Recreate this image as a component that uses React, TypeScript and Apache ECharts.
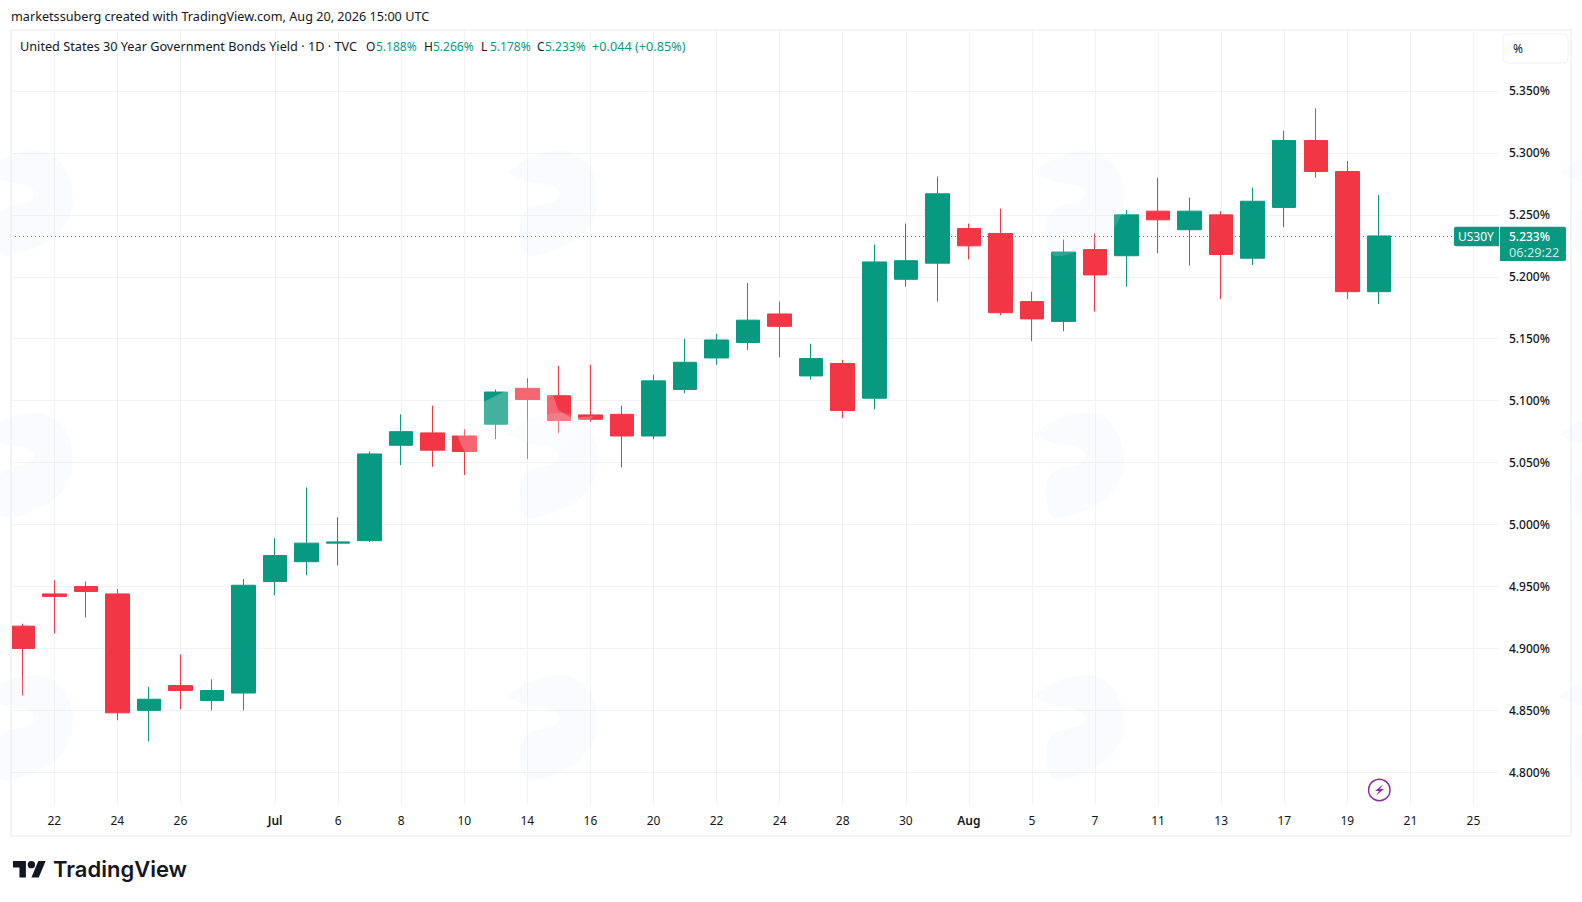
import React, { useEffect, useRef } from "react";
import * as echarts from "echarts";

const categories = [
  "19","22","23","24","25","26","29","30","Jul","2","6","7","8","9","10","13","14","15","16","17","20","21","22","23","24","27","28","29","30","31",
  "Aug","4","5","6","7","10","11","12","13","14","17","18","19","20","21","24","25","26",
];
const tickIndices = [1,3,5,8,10,12,14,16,18,20,22,24,26,28,30,32,34,36,38,40,42,44,46];
const opens = [4.918,4.944,4.95,4.944,4.85,4.87,4.858,4.864,4.954,4.97,4.985,4.987,5.064,5.074,5.0715,5.081,5.11,5.104,5.0885,5.089,5.0715,5.109,5.1345,5.147,5.17,5.12,5.13,5.102,5.198,5.211,5.239,5.235,5.18,5.164,5.222,5.217,5.253,5.238,5.25,5.215,5.256,5.31,5.285,5.188];
const closes = [4.9,4.942,4.946,4.848,4.859,4.866,4.866,4.951,4.975,4.985,4.986,5.057,5.075,5.06,5.059,5.107,5.101,5.084,5.085,5.0715,5.116,5.131,5.149,5.165,5.16,5.134,5.092,5.212,5.213,5.267,5.225,5.171,5.166,5.22,5.2015,5.25,5.246,5.253,5.218,5.261,5.31,5.285,5.188,5.233];
const lows = [4.862,4.912,4.925,4.842,4.825,4.851,4.85,4.85,4.943,4.959,4.967,4.986,5.048,5.0465,5.04,5.069,5.053,5.074,5.083,5.046,5.069,5.106,5.129,5.141,5.135,5.117,5.086,5.093,5.192,5.18,5.214,5.169,5.148,5.156,5.172,5.192,5.219,5.209,5.182,5.2095,5.24,5.28,5.182,5.178];
const highs = [4.92,4.955,4.954,4.948,4.869,4.895,4.875,4.956,4.989,5.03,5.006,5.059,5.089,5.096,5.077,5.109,5.118,5.128,5.129,5.096,5.121,5.15,5.154,5.195,5.18,5.146,5.133,5.226,5.243,5.281,5.243,5.255,5.188,5.23,5.235,5.254,5.28,5.264,5.253,5.272,5.318,5.336,5.2935,5.266];
const lastClose = 5.233;
const UP = "#089981";
const DOWN = "#F23645";
const INK = "#131722";
const GRID = "#f1f2f5";
const FONT = "'Noto Sans', sans-serif";

const candles = opens.map((o, i) => [o, closes[i], lows[i], highs[i]]);

const LOGO_D = "M14 22H7V11H0V4h14v18z M28 22h-8l7.5-18h8L28 22z M24 8a4 4 0 1 1-8 0 4 4 0 0 1 8 0z";
const BLOB_D = "M40 75 C80 35 140 8 200 8 C270 8 312 75 312 150 C312 225 260 280 200 300 C170 312 135 325 110 325 C85 325 78 280 78 240 C78 205 95 180 130 172 C170 166 195 160 195 138 C195 116 160 108 130 106 C95 102 65 88 40 75 Z";
echarts.graphic.registerShape("tvLogo", echarts.graphic.extendPath(LOGO_D, {}));
echarts.graphic.registerShape("tvBlob", echarts.graphic.extendPath(BLOB_D, {}));

const blobX = [-31, 494, 1020, 1546];
const blobY = [148, 410, 672];

function label(text: string, x: number, y: number, fill: string, extra: any = {}) {
  return {
    type: "text",
    z: 12,
    silent: true,
    style: { text, x, y, fill, fontSize: 12, fontFamily: FONT, verticalAlign: "middle", align: "left", ...extra },
  };
}

export default function App() {
  const ref = useRef<HTMLDivElement>(null);
  useEffect(() => {
    document.body.style.margin = "0";
    const chart = echarts.init(ref.current!, null, { renderer: "svg" });
    const blobs: any[] = [];
    blobX.forEach((x) =>
      blobY.forEach((y) =>
        blobs.push({ type: "tvBlob", x, y, scaleX: 1 / 3, scaleY: 1 / 3, z: 9, silent: true, style: { fill: "rgba(222,231,250,0.16)" } })
      )
    );
    const showTick = (i: number) => tickIndices.includes(i);
    const sheen = [[352, 288], [432, 185], [490, 156], [520, 120], [640, 140], [640, 168], [655, 210], [696, 235], [760, 228], [700, 300], [560, 360], [378, 345]].map(
      ([a, b]) => [340 + a / 3, 340 + b / 3]
    );
    chart.setOption({
      animation: false,
      backgroundColor: "#ffffff",
      textStyle: { fontFamily: FONT },
      grid: { left: 6.99, top: 29.06, width: 1513.78, height: 805.18, containLabel: false },
      xAxis: [
        {
          type: "category",
          position: "top",
          data: categories,
          axisLine: { show: false },
          axisTick: { show: false },
          axisLabel: { show: false },
          splitLine: {
            show: true,
            alignWithLabel: true,
            interval: showTick,
            lineStyle: { color: GRID, width: 1 },
          },
          z: 0,
        },
        {
          type: "category",
          position: "bottom",
          data: categories,
          axisLine: { show: false },
          axisTick: { show: false },
          splitLine: { show: false },
          axisLabel: {
            show: true,
            margin: -20,
            interval: showTick,
            color: INK,
            fontSize: 12,
            fontFamily: FONT,
            hideOverlap: false,
            formatter: (v: string) => (v === "Jul" || v === "Aug" ? `{b|${v}}` : v),
            rich: { b: { fontWeight: 600, fontSize: 12, color: INK, fontFamily: FONT } },
          },
          z: 12,
        },
      ],
      yAxis: [
        {
          type: "value",
          position: "left",
          min: 4.75,
          max: 5.4,
          interval: 0.05,
          axisLine: { show: false },
          axisTick: { show: false },
          axisLabel: { show: false },
          splitLine: { show: true, lineStyle: { color: GRID, width: 1 } },
          z: 0,
        },
        {
          type: "value",
          position: "right",
          min: 4.75,
          max: 5.4,
          interval: 0.05,
          axisLine: { show: false },
          axisTick: { show: false },
          splitLine: { show: false },
          axisLabel: {
            show: true,
            margin: -11.8,
            padding: [2, 0, 0, 0],
            showMinLabel: false,
            showMaxLabel: false,
            align: "left",
            color: INK,
            fontSize: 12,
            fontWeight: 500,
            fontFamily: FONT,
            formatter: (v: number) => v.toFixed(3) + "%",
          },
          z: 12,
        },
      ],
      series: [
        {
          type: "candlestick",
          xAxisIndex: 0,
          yAxisIndex: 0,
          data: candles,
          barWidth: 24,
          silent: true,
          itemStyle: { color: UP, color0: DOWN, borderColor: UP, borderColor0: DOWN, borderWidth: 1 },
          markLine: {
            silent: true,
            precision: 3,
            symbol: "none",
            label: { show: false },
            lineStyle: { color: UP, type: [1, 3], width: 1, opacity: 1 },
            data: [{ yAxis: lastClose }],
          },
        },
      ],
      graphic: {
        elements: [
          // covers that trim the scale-aligned grid lines to the pane
          { type: "rect", z: 8, silent: true, shape: { x: 0, y: 20, width: 11, height: 820 }, style: { fill: "#fff" } },
          { type: "rect", z: 8, silent: true, shape: { x: 1499, y: 20, width: 83, height: 820 }, style: { fill: "#fff" } },
          { type: "rect", z: 8, silent: true, shape: { x: 0, y: 804.5, width: 1582, height: 36 }, style: { fill: "#fff" } },
          ...blobs,
          { type: "polygon", z: 9, silent: true, shape: { points: sheen }, style: { fill: "rgba(255,255,255,0.24)" } },
          // frame
          { type: "rect", z: 11, silent: true, shape: { x: 11, y: 30, width: 1560, height: 806 }, style: { fill: "none", stroke: "#f2f3f5", lineWidth: 2 } },
          // header
          label("marketssuberg created with TradingView.com, Aug 20, 2026 15:00 UTC", 11, 15.8, INK, { fontSize: 12.65 }),
          // legend
          label("United States 30 Year Government Bonds Yield · 1D · TVC", 20, 45.7, INK, { fontSize: 12.7 }),
          label("O", 366, 46, INK),
          label("5.188%", 376, 46, UP),
          label("H", 424, 46, INK),
          label("5.266%", 433, 46, UP),
          label("L", 481, 46, INK),
          label("5.178%", 490, 46, UP),
          label("C", 537, 46, INK),
          label("5.233%", 545, 46, UP),
          label("+0.044 (+0.85%)", 592, 45.7, UP, { fontSize: 12.7 }),
          // unit box
          { type: "rect", z: 11, silent: true, shape: { x: 1503, y: 34, width: 65, height: 29, r: 4 }, style: { fill: "#fff", stroke: "#f0f1f4", lineWidth: 1 } },
          label("%", 1513, 48.5, INK),
          // price tag
          { type: "rect", z: 11, silent: true, shape: { x: 1454, y: 226.7, width: 45, height: 19.5, r: [2, 0, 0, 2] }, style: { fill: UP } },
          { type: "rect", z: 11, silent: true, shape: { x: 1500, y: 226.7, width: 66, height: 34.3, r: [0, 2, 2, 0] }, style: { fill: UP } },
          label("US30Y", 1458, 236.7, "#ffffff"),
          label("5.233%", 1509, 236.7, "#ffffff", { fontWeight: 500 }),
          label("06:29:22", 1509, 251.7, "rgba(255,255,255,0.8)", { fontSize: 12.7 }),
          // bolt marker
          { type: "circle", z: 11, silent: true, shape: { cx: 1379.3, cy: 790, r: 10.7 }, style: { fill: "#fff", stroke: "#8e2ea6", lineWidth: 1.5 } },
          { type: "polygon", z: 12, silent: true, shape: { points: [[1383, 784.5], [1375, 791], [1379, 791], [1376, 795.5], [1384, 789], [1380, 789]] }, style: { fill: "#8e2ea6" } },
          // brand
          { type: "tvLogo", x: 13, y: 857.3, scaleX: 0.92, scaleY: 0.92, z: 12, silent: true, style: { fill: "#131722" } },
          label("TradingView", 53, 869, "#131722", { fontFamily: "Inter, sans-serif", fontSize: 22, fontWeight: 600 }),
        ],
      },
    });
    return () => chart.dispose();
  }, []);
  return <div ref={ref} style={{ position: "absolute", left: 0, top: 0, width: 1582, height: 902 }} />;
}
